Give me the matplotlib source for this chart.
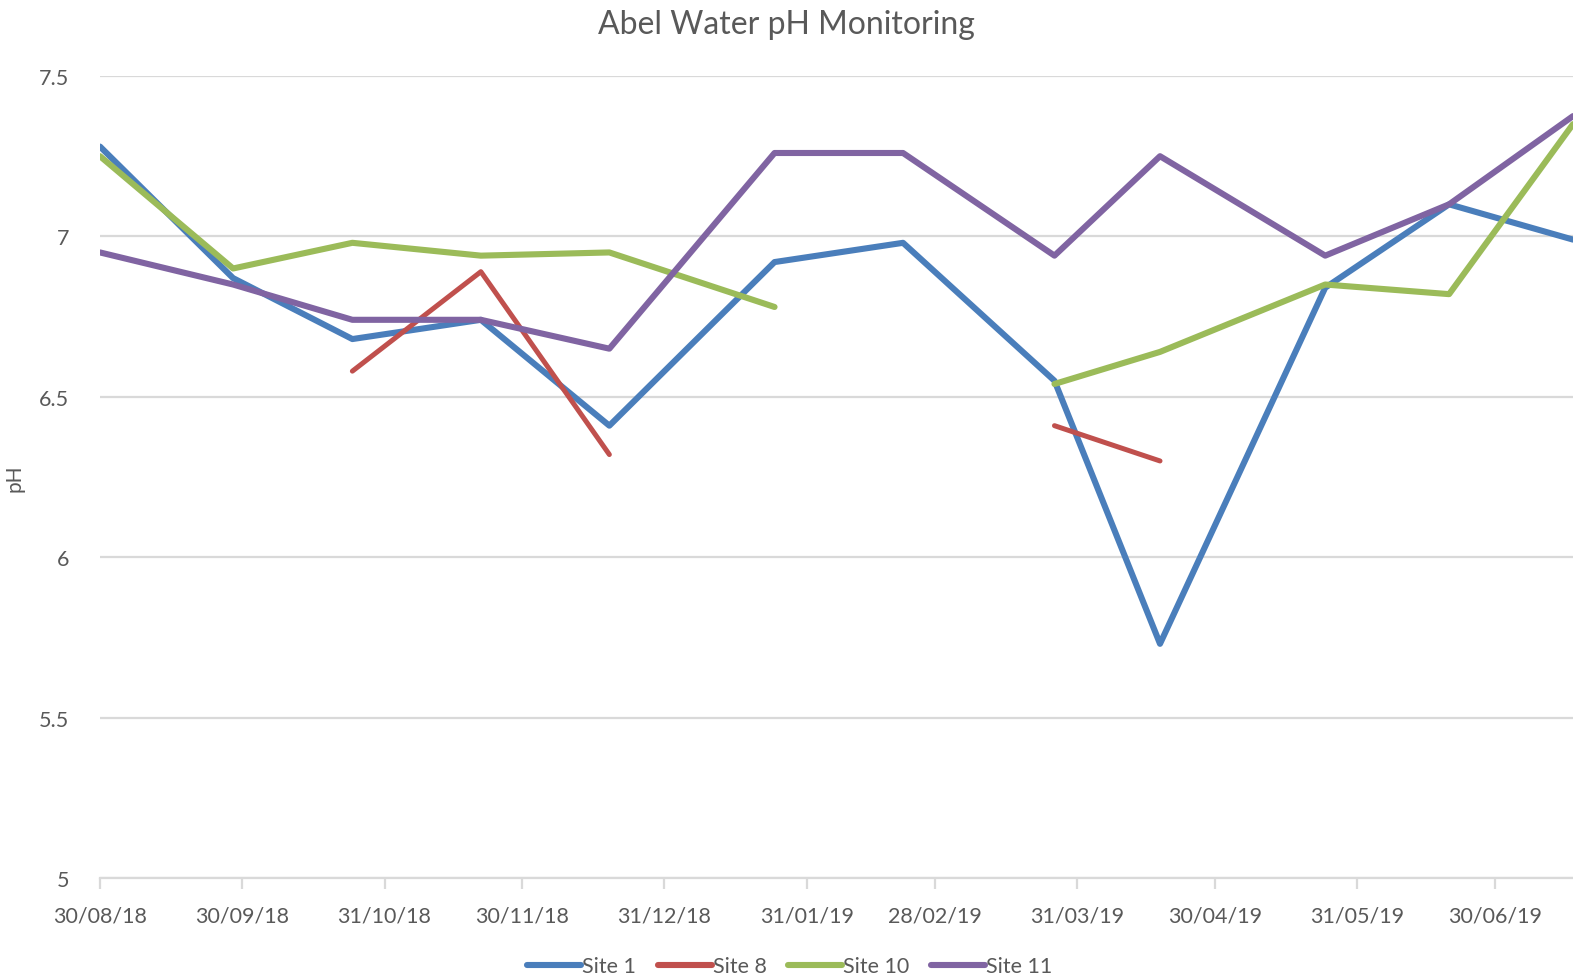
import matplotlib.pyplot as plt
import matplotlib.dates as mdates
import numpy as np
import pandas as pd

# sample dates and pH readings per site (NaN = no reading)
dates = pd.to_datetime(['2018-08-30', '2018-09-28', '2018-10-24', '2018-11-21',
                        '2018-12-19', '2019-01-24', '2019-02-21', '2019-03-26',
                        '2019-04-18', '2019-05-24', '2019-06-20', '2019-07-17'])
site1 = [7.28, 6.87, 6.68, 6.74, 6.41, 6.92, 6.98, 6.55, 5.73, 6.84, 7.10, 6.99]
site8 = [np.nan, np.nan, 6.58, 6.89, 6.32, np.nan, np.nan, 6.41, 6.30, np.nan, np.nan, np.nan]
site10 = [7.25, 6.90, 6.98, 6.94, 6.95, 6.78, np.nan, 6.54, 6.64, 6.85, 6.82, 7.35]
site11 = [6.95, 6.85, 6.74, 6.74, 6.65, 7.26, 7.26, 6.94, 7.25, 6.94, 7.10, 7.375]

tick_dates = pd.to_datetime(['2018-08-30', '2018-09-30', '2018-10-31', '2018-11-30',
                             '2018-12-31', '2019-01-31', '2019-02-28', '2019-03-31',
                             '2019-04-30', '2019-05-31', '2019-06-30'])

series = [('Site 1', site1, '#4a7ebb', 4.4),
          ('Site 8', site8, '#c0504d', 3.6),
          ('Site 10', site10, '#9bbb59', 4.4),
          ('Site 11', site11, '#8064a2', 4.4)]

plt.rcParams['font.family'] = 'Lato'
txt = '#595959'

fig = plt.figure(figsize=(15.73, 9.79), dpi=100)
ax = fig.add_axes([100 / 1573, 1 - 879 / 979, 1 - 100 / 1573, (879 - 77) / 979])

for name, vals, col, lw in series:
    ax.plot(dates, vals, color=col, lw=lw, label=name,
            solid_capstyle='round', solid_joinstyle='round', zorder=3)

ax.set_ylim(5, 7.5)
ax.set_yticks([5, 5.5, 6, 6.5, 7, 7.5])
ax.set_yticklabels(['5', '5.5', '6', '6.5', '7', '7.5'])
ax.set_xlim(dates[0], dates[-1])
ax.set_xticks(tick_dates)
ax.xaxis.set_major_formatter(mdates.DateFormatter('%d/%m/%y'))

ax.grid(axis='y', color='#d9d9d9', lw=1.6, zorder=0)
for s in ['left', 'right', 'top']:
    ax.spines[s].set_visible(False)
ax.spines['bottom'].set_color('#d9d9d9')
ax.spines['bottom'].set_linewidth(1.6)
ax.tick_params(axis='x', colors='#d9d9d9', length=8, width=1.6, labelcolor=txt,
               labelsize=15.5, pad=12)
ax.tick_params(axis='y', length=0, labelcolor=txt, labelsize=15.5, pad=22)

ax.set_ylabel('pH', color=txt, fontsize=15)
ax.yaxis.set_label_coords(-0.051, 0.5)
fig.suptitle('Abel Water pH Monitoring', color=txt, fontsize=23, y=0.99, va='top')

leg = fig.legend(loc='lower center', bbox_to_anchor=(0.502, -0.018), ncol=4, frameon=False,
                 fontsize=15.5, handlelength=2.5, handletextpad=0.05, columnspacing=1.0,
                 labelcolor=txt)
for h in leg.get_lines():
    h.set_linewidth(4.4)

fig.savefig('out.png', dpi=100)
